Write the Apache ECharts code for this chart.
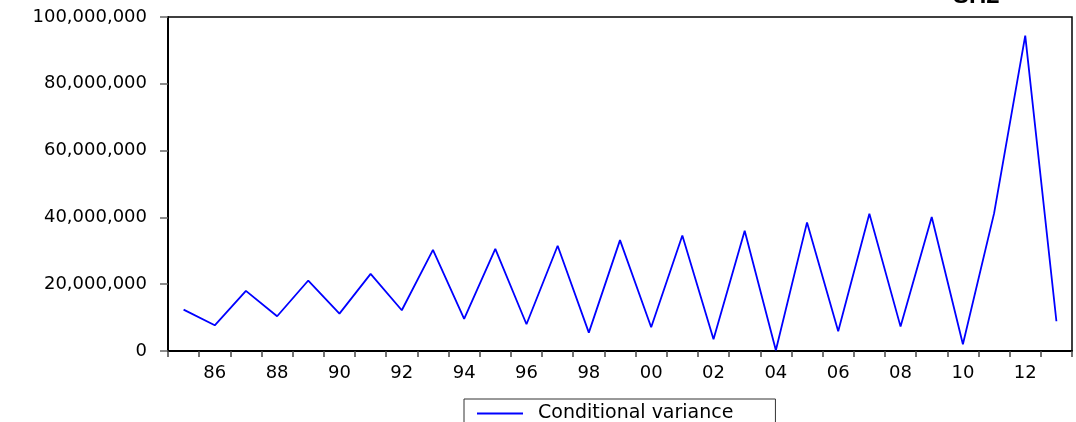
<!DOCTYPE html>
<html>
<head>
<meta charset="utf-8">
<script src="https://cdn.jsdelivr.net/npm/echarts@6/dist/echarts.min.js"></script>
<style>
html,body{margin:0;padding:0;background:#fff;}
#chart{width:1076px;height:422px;}
</style>
</head>
<body>
<div id="chart"></div>
<script>
var years = ['1985','1986','1987','1988','1989','1990','1991','1992','1993','1994',
             '1995','1996','1997','1998','1999','2000','2001','2002','2003','2004',
             '2005','2006','2007','2008','2009','2010','2011','2012','2013'];
var conditionalVariance = [12400000, 7700000, 18000000, 10400000, 21100000, 11200000, 23100000, 12200000, 30300000, 9600000,
                           30600000, 8000000, 31500000, 5500000, 33200000, 7100000, 34600000, 3500000, 36000000, 200000,
                           38500000, 5900000, 41100000, 7300000, 40100000, 2000000, 41200000, 94400000, 8900000];
var yTicks = [0, 20000000, 40000000, 60000000, 80000000, 100000000];
var seriesName = 'Conditional variance';
var chartTitle = 'SH2';

var FONT = '"DejaVu Sans", "Liberation Sans", Arial, sans-serif';
var chart = echarts.init(document.getElementById('chart'), null, {renderer: 'canvas'});
chart.setOption({
  animation: false,
  backgroundColor: '#ffffff',
  graphic: [{
    type: 'text', left: 953, top: -16,
    style: {text: chartTitle, font: 'bold 24px "Liberation Sans", Arial, sans-serif', fill: '#000'}
  }],
  grid: {left: 168, right: 4, top: 17, bottom: 71, show: true, borderColor: '#000', borderWidth: 1.5, containLabel: false},
  legend: {
    data: [{name: seriesName, icon: 'rect'}], left: 464, top: 399,
    orient: 'horizontal',
    borderColor: '#333', borderWidth: 1,
    padding: [5, 42, 8, 13],
    itemWidth: 46, itemHeight: 2,
    textStyle: {fontFamily: FONT, fontSize: 19, color: '#000', padding: [0, 0, 0, 10]}
  },
  xAxis: {
    type: 'category', data: years, boundaryGap: true,
    axisLine: {show: true, lineStyle: {color: '#000', width: 2}},
    axisTick: {show: true, interval: 0, length: 6, lineStyle: {color: '#444', width: 1.5}},
    axisLabel: {
      interval: function (idx) { return idx % 2 === 1; },
      formatter: function (v) { return v.slice(2); },
      margin: 13, fontFamily: FONT, fontSize: 18, color: '#000'
    },
    splitLine: {show: false}
  },
  yAxis: {
    type: 'value', min: yTicks[0], max: yTicks[yTicks.length - 1], interval: yTicks[1] - yTicks[0],
    axisLine: {show: true, lineStyle: {color: '#000', width: 2}},
    axisTick: {show: true, length: 8, lineStyle: {color: '#666', width: 1.5}},
    axisLabel: {
      margin: 21, fontFamily: FONT, fontSize: 18, color: '#000',
      formatter: function (v) { return v.toLocaleString('en-US'); }
    },
    splitLine: {show: false}
  },
  series: [{
    name: seriesName, type: 'line', data: conditionalVariance,
    symbol: 'none', lineStyle: {color: '#0000ff', width: 1.8}, itemStyle: {color: '#0000ff'}
  }]
});
</script>
</body>
</html>
